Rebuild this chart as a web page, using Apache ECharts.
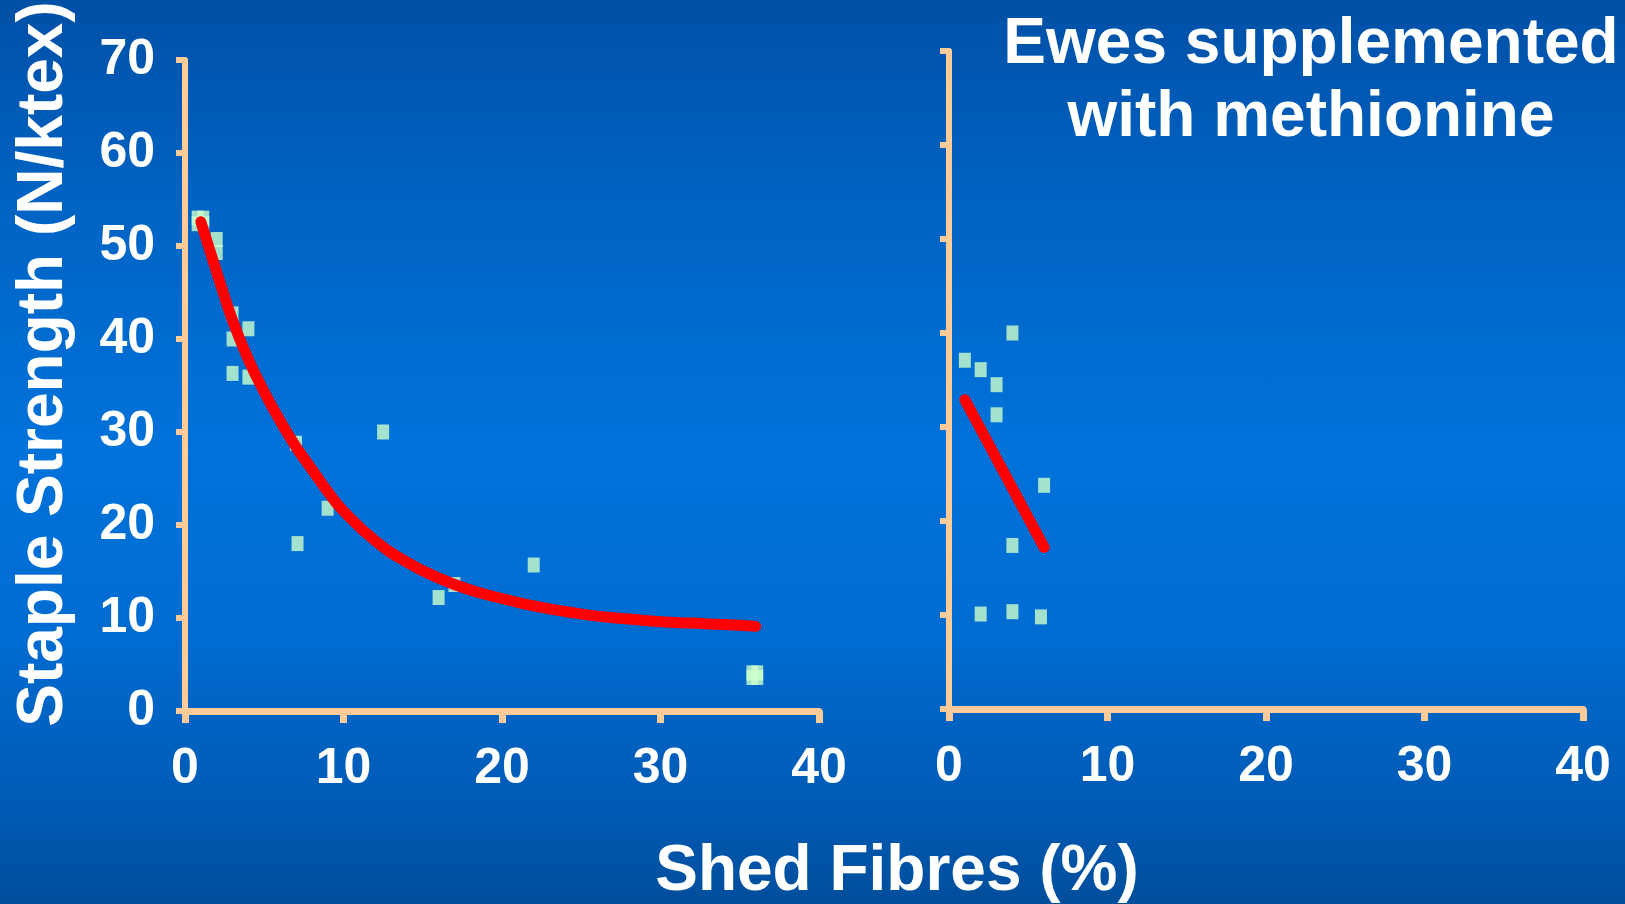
<!DOCTYPE html>
<html>
<head>
<meta charset="utf-8">
<script src="https://cdn.jsdelivr.net/npm/echarts@6/dist/echarts.min.js"></script>
<style>
  html, body { margin: 0; padding: 0; width: 1625px; height: 904px; overflow: hidden; }
  body { background: linear-gradient(to bottom, #0050A6 0%, #0063C3 22%, #0072DA 50%, #006CD2 70%, #005BB6 88%, #004E9C 100%); }
  #chart { width: 1625px; height: 904px; }
</style>
</head>
<body>
<div id="chart"></div>
<script>
// ---- data ----
const xTicks = [0, 10, 20, 30, 40];
const yTicks = [0, 10, 20, 30, 40, 50, 60, 70];

// Control ewes: shed fibres (%) vs staple strength (N/ktex)
const controlX = [0.8, 1.15, 0.8, 1.15, 2, 2, 3, 3, 3, 4, 4, 7, 7.1, 9, 12.5, 16, 17, 22, 35.8, 36.1, 35.8, 36.1];
const controlY = [53.0, 53.0, 52.4, 52.4, 50.7, 49.3, 42.7, 40.0, 36.3, 41.1, 35.9, 28.8, 18.0, 21.8, 30.0, 12.2, 13.6, 15.7, 4.1, 4.1, 3.6, 3.6];

// Fitted curve for control ewes
const controlFitX = [1, 2, 3, 4, 5, 6, 7, 8, 9, 10, 12, 14, 16, 18, 20, 22, 24, 26, 28, 30, 32, 34, 36];
const controlFitY = [52.6, 47.2, 42.0, 37.8, 34.3, 31.2, 28.4, 26.0, 23.6, 21.5, 18.3, 16.0, 14.3, 13.0, 12.1, 11.3, 10.7, 10.2, 9.9, 9.6, 9.45, 9.3, 9.1];

// Ewes supplemented with methionine
const methX = [1, 2, 2, 3, 3, 4, 4, 4, 5.8, 6];
const methY = [37.1, 36.1, 10.1, 34.5, 31.3, 40.0, 17.4, 10.35, 9.8, 23.8];

// Fitted line for supplemented ewes
const methFitX = [1, 6];
const methFitY = [32.9, 17.2];

const titleText = 'Ewes supplemented\nwith methionine';
const yName = 'Staple Strength (N/ktex)';
const xName = 'Shed Fibres (%)';

// ---- helpers ----
const zip = (a, b) => a.map((v, i) => [v, b[i]]);
const FONT = '"Liberation Sans", Arial, sans-serif';
const PEACH = '#FFCC99';

function xAxisCfg(gridIndex) {
  return {
    type: 'value', gridIndex, min: 0, max: 40, interval: 10,
    axisLine: { show: true, onZero: false, lineStyle: { color: PEACH, width: 7 } },
    axisTick: { show: true, inside: false, length: 12, lineStyle: { color: PEACH, width: 7 } },
    minorTick: { show: true, splitNumber: 2, length: 4, lineStyle: { color: PEACH, width: 5 } },
    splitLine: { show: false },
    axisLabel: { color: '#ffffff', fontSize: 50, fontWeight: 'bold', fontFamily: FONT, margin: 33,
      formatter: v => xTicks.includes(v) ? String(v) : '' }
  };
}
function yAxisCfg(gridIndex, labels) {
  return {
    type: 'value', gridIndex, min: 0, max: 70, interval: 10,
    axisLine: { show: true, onZero: false, lineStyle: { color: PEACH, width: 6 } },
    axisTick: { show: true, inside: false, length: 9, lineStyle: { color: PEACH, width: 6 } },
    minorTick: { show: true, splitNumber: 2, length: 3, lineStyle: { color: PEACH, width: 4 } },
    splitLine: { show: false },
    axisLabel: { show: labels, color: '#ffffff', fontSize: 50, fontWeight: 'bold', fontFamily: FONT, margin: 30,
      formatter: v => yTicks.includes(v) ? String(v) : '' }
  };
}

const chart = echarts.init(document.getElementById('chart'), null, { renderer: 'canvas' });
const pointStyle = { color: '#CCFFCC', borderWidth: 0 };

chart.setOption({
  backgroundColor: 'transparent',
  animation: false,
  title: {
    text: titleText, left: 1306, top: 4, textAlign: 'center',
    textStyle: { color: '#ffffff', fontSize: 64, fontWeight: 'bold', fontFamily: FONT, lineHeight: 73 }
  },
  grid: [
    { left: 185, right: 806, top: 60, bottom: 193 },
    { left: 949, right: 42, top: 51, bottom: 195 }
  ],
  xAxis: [xAxisCfg(0), xAxisCfg(1)],
  yAxis: [yAxisCfg(0, true), yAxisCfg(1, false)],
  graphic: [
    { type: 'text', x: 44, y: 364, rotation: Math.PI / 2,
      style: { text: yName, fill: '#ffffff', font: 'bold 64px ' + FONT, textAlign: 'center', textVerticalAlign: 'middle' } },
    { type: 'text', x: 897, y: 872,
      style: { text: xName, fill: '#ffffff', font: 'bold 64px ' + FONT, textAlign: 'center', textVerticalAlign: 'middle' } }
  ],
  series: [
    { type: 'scatter', xAxisIndex: 0, yAxisIndex: 0, symbol: 'rect', symbolSize: [12, 15],
      itemStyle: pointStyle, data: zip(controlX, controlY), z: 2 },
    { type: 'line', xAxisIndex: 0, yAxisIndex: 0, data: zip(controlFitX, controlFitY), smooth: true,
      showSymbol: false, lineStyle: { color: '#FF0000', width: 11, cap: 'round', join: 'round' }, z: 3 },
    { type: 'scatter', xAxisIndex: 1, yAxisIndex: 1, symbol: 'rect', symbolSize: [12, 15],
      itemStyle: pointStyle, data: zip(methX, methY), z: 2 },
    { type: 'line', xAxisIndex: 1, yAxisIndex: 1, data: zip(methFitX, methFitY),
      showSymbol: false, lineStyle: { color: '#FF0000', width: 11, cap: 'round' }, z: 3 }
  ]
});
</script>
</body>
</html>
